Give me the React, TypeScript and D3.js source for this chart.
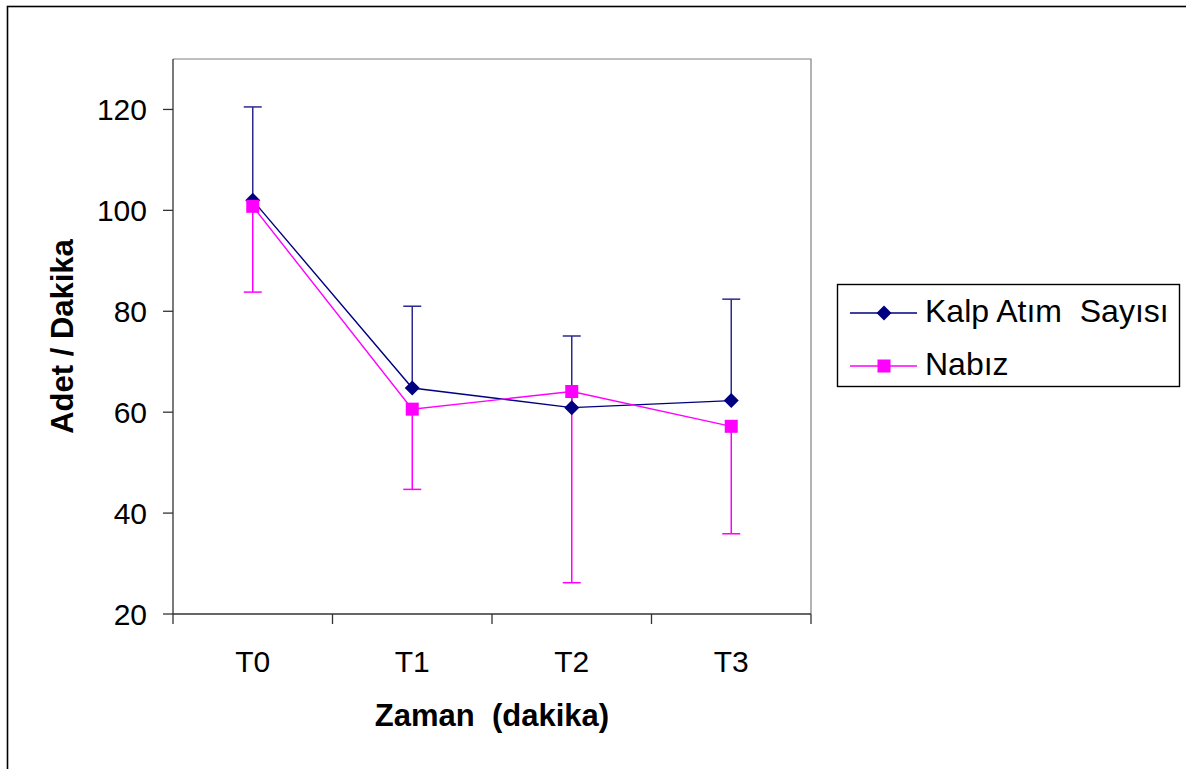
import React from "react";
import * as d3 from "d3";

// Time points and measured means with one-sided error bars
const categories = ["T0", "T1", "T2", "T3"];
const kalpMeans = [102, 64.8, 60.9, 62.3];
const kalpErrUp = [18.5, 16.2, 14.2, 20.1];
const nabizMeans = [100.8, 60.6, 64.1, 57.2];
const nabizErrDown = [17.0, 15.9, 37.9, 21.3];
const yTicks = [20, 40, 60, 80, 100, 120];
const seriesNames = ["Kalp Atım  Sayısı", "Nabız"];

const W = 1186;
const H = 769;
const plot = { left: 173, right: 811, top: 59, bottom: 614 };
const NAVY = "#000080";
const MAGENTA = "#FF00FF";
const FONT = "'Liberation Sans', Arial, Helvetica, sans-serif";

const x = d3
  .scaleBand<string>()
  .domain(categories)
  .range([plot.left, plot.right])
  .paddingInner(0)
  .paddingOuter(0);
const y = d3.scaleLinear().domain([20, 130]).range([plot.bottom, plot.top]);
const cx = (c: string) => (x(c) as number) + x.bandwidth() / 2;

const line = d3
  .line<number>()
  .x((_, i) => cx(categories[i]))
  .y((v) => y(v));

const Diamond = ({ px, py, r = 7.5 }: { px: number; py: number; r?: number }) => (
  <path
    d={`M${px},${py - r}L${px + r},${py}L${px},${py + r}L${px - r},${py}Z`}
    fill={NAVY}
  />
);
const Square = ({ px, py, s = 13 }: { px: number; py: number; s?: number }) => (
  <rect x={px - s / 2} y={py - s / 2} width={s} height={s} fill={MAGENTA} />
);

const pre = { whiteSpace: "pre" as const };

export default function App() {
  const cap = 9;
  const boundaries = [...categories.map((c) => x(c) as number), plot.right];
  return (
    <svg
      width={W}
      height={H}
      style={{ position: "absolute", left: 0, top: 0, background: "#fff" }}
      fontFamily={FONT}
    >
      {/* chart area frame */}
      <rect x={7.5} y={6.5} width={W + 20} height={H + 20} fill="#fff" stroke="#000" strokeWidth={1.6} />

      {/* plot area frame (top/right) */}
      <path
        d={`M${plot.left},${plot.top}H${plot.right}V${plot.bottom}`}
        fill="none"
        stroke="#808080"
        strokeWidth={1.2}
      />

      {/* y axis */}
      <line x1={plot.left} x2={plot.left} y1={plot.top} y2={plot.bottom} stroke="#333" strokeWidth={1.3} />
      {yTicks.map((t) => (
        <g key={t}>
          <line x1={plot.left - 10} x2={plot.left} y1={y(t)} y2={y(t)} stroke="#333" strokeWidth={1.3} />
          <text x={147} y={y(t) + 10.5} textAnchor="end" fontSize={30} fill="#000">
            {t}
          </text>
        </g>
      ))}

      {/* x axis */}
      <line x1={plot.left} x2={plot.right} y1={plot.bottom} y2={plot.bottom} stroke="#333" strokeWidth={1.3} />
      {boundaries.map((b, i) => (
        <line key={i} x1={b} x2={b} y1={plot.bottom} y2={plot.bottom + 10} stroke="#333" strokeWidth={1.3} />
      ))}
      {categories.map((c) => (
        <text key={c} x={cx(c)} y={672} textAnchor="middle" fontSize={30} fill="#000">
          {c}
        </text>
      ))}

      {/* axis titles */}
      <text
        x={(plot.left + plot.right) / 2}
        y={726}
        textAnchor="middle"
        fontSize={31}
        fontWeight="bold"
        fill="#000"
        style={pre}
      >
        {"Zaman  (dakika)"}
      </text>
      <text
        transform={`translate(73,${(plot.top + plot.bottom) / 2}) rotate(-90)`}
        textAnchor="middle"
        fontSize={31}
        fontWeight="bold"
        fill="#000"
      >
        Adet / Dakika
      </text>

      {/* error bars: Kalp upward */}
      {categories.map((c, i) => {
        const px = cx(c);
        const top = y(kalpMeans[i] + kalpErrUp[i]);
        return (
          <g key={`ke${c}`} stroke="#2a2a90" strokeWidth={1.5}>
            <line x1={px} x2={px} y1={y(kalpMeans[i])} y2={top} />
            <line x1={px - cap} x2={px + cap} y1={top} y2={top} />
          </g>
        );
      })}
      {/* error bars: Nabız downward */}
      {categories.map((c, i) => {
        const px = cx(c);
        const bot = y(nabizMeans[i] - nabizErrDown[i]);
        return (
          <g key={`ne${c}`} stroke={MAGENTA} strokeWidth={1.5}>
            <line x1={px} x2={px} y1={y(nabizMeans[i])} y2={bot} />
            <line x1={px - cap} x2={px + cap} y1={bot} y2={bot} />
          </g>
        );
      })}

      {/* series lines */}
      <path d={line(kalpMeans) || ""} fill="none" stroke={NAVY} strokeWidth={1.4} />
      <path d={line(nabizMeans) || ""} fill="none" stroke={MAGENTA} strokeWidth={1.4} />

      {/* markers */}
      {categories.map((c, i) => (
        <Diamond key={`kd${c}`} px={cx(c)} py={y(kalpMeans[i])} />
      ))}
      {categories.map((c, i) => (
        <Square key={`ns${c}`} px={cx(c)} py={y(nabizMeans[i])} />
      ))}

      {/* legend */}
      <rect x={837.5} y={284.5} width={342} height={102} fill="#fff" stroke="#000" strokeWidth={1.4} />
      <line x1={850} x2={917} y1={313} y2={313} stroke={NAVY} strokeWidth={1.4} />
      <Diamond px={884} py={313} />
      <text x={925} y={322} fontSize={32} fill="#000" style={pre}>
        {seriesNames[0]}
      </text>
      <line x1={850} x2={917} y1={366} y2={366} stroke={MAGENTA} strokeWidth={1.4} />
      <Square px={884} py={366} />
      <text x={925} y={374.5} fontSize={32} fill="#000" style={pre}>
        {seriesNames[1]}
      </text>
    </svg>
  );
}
